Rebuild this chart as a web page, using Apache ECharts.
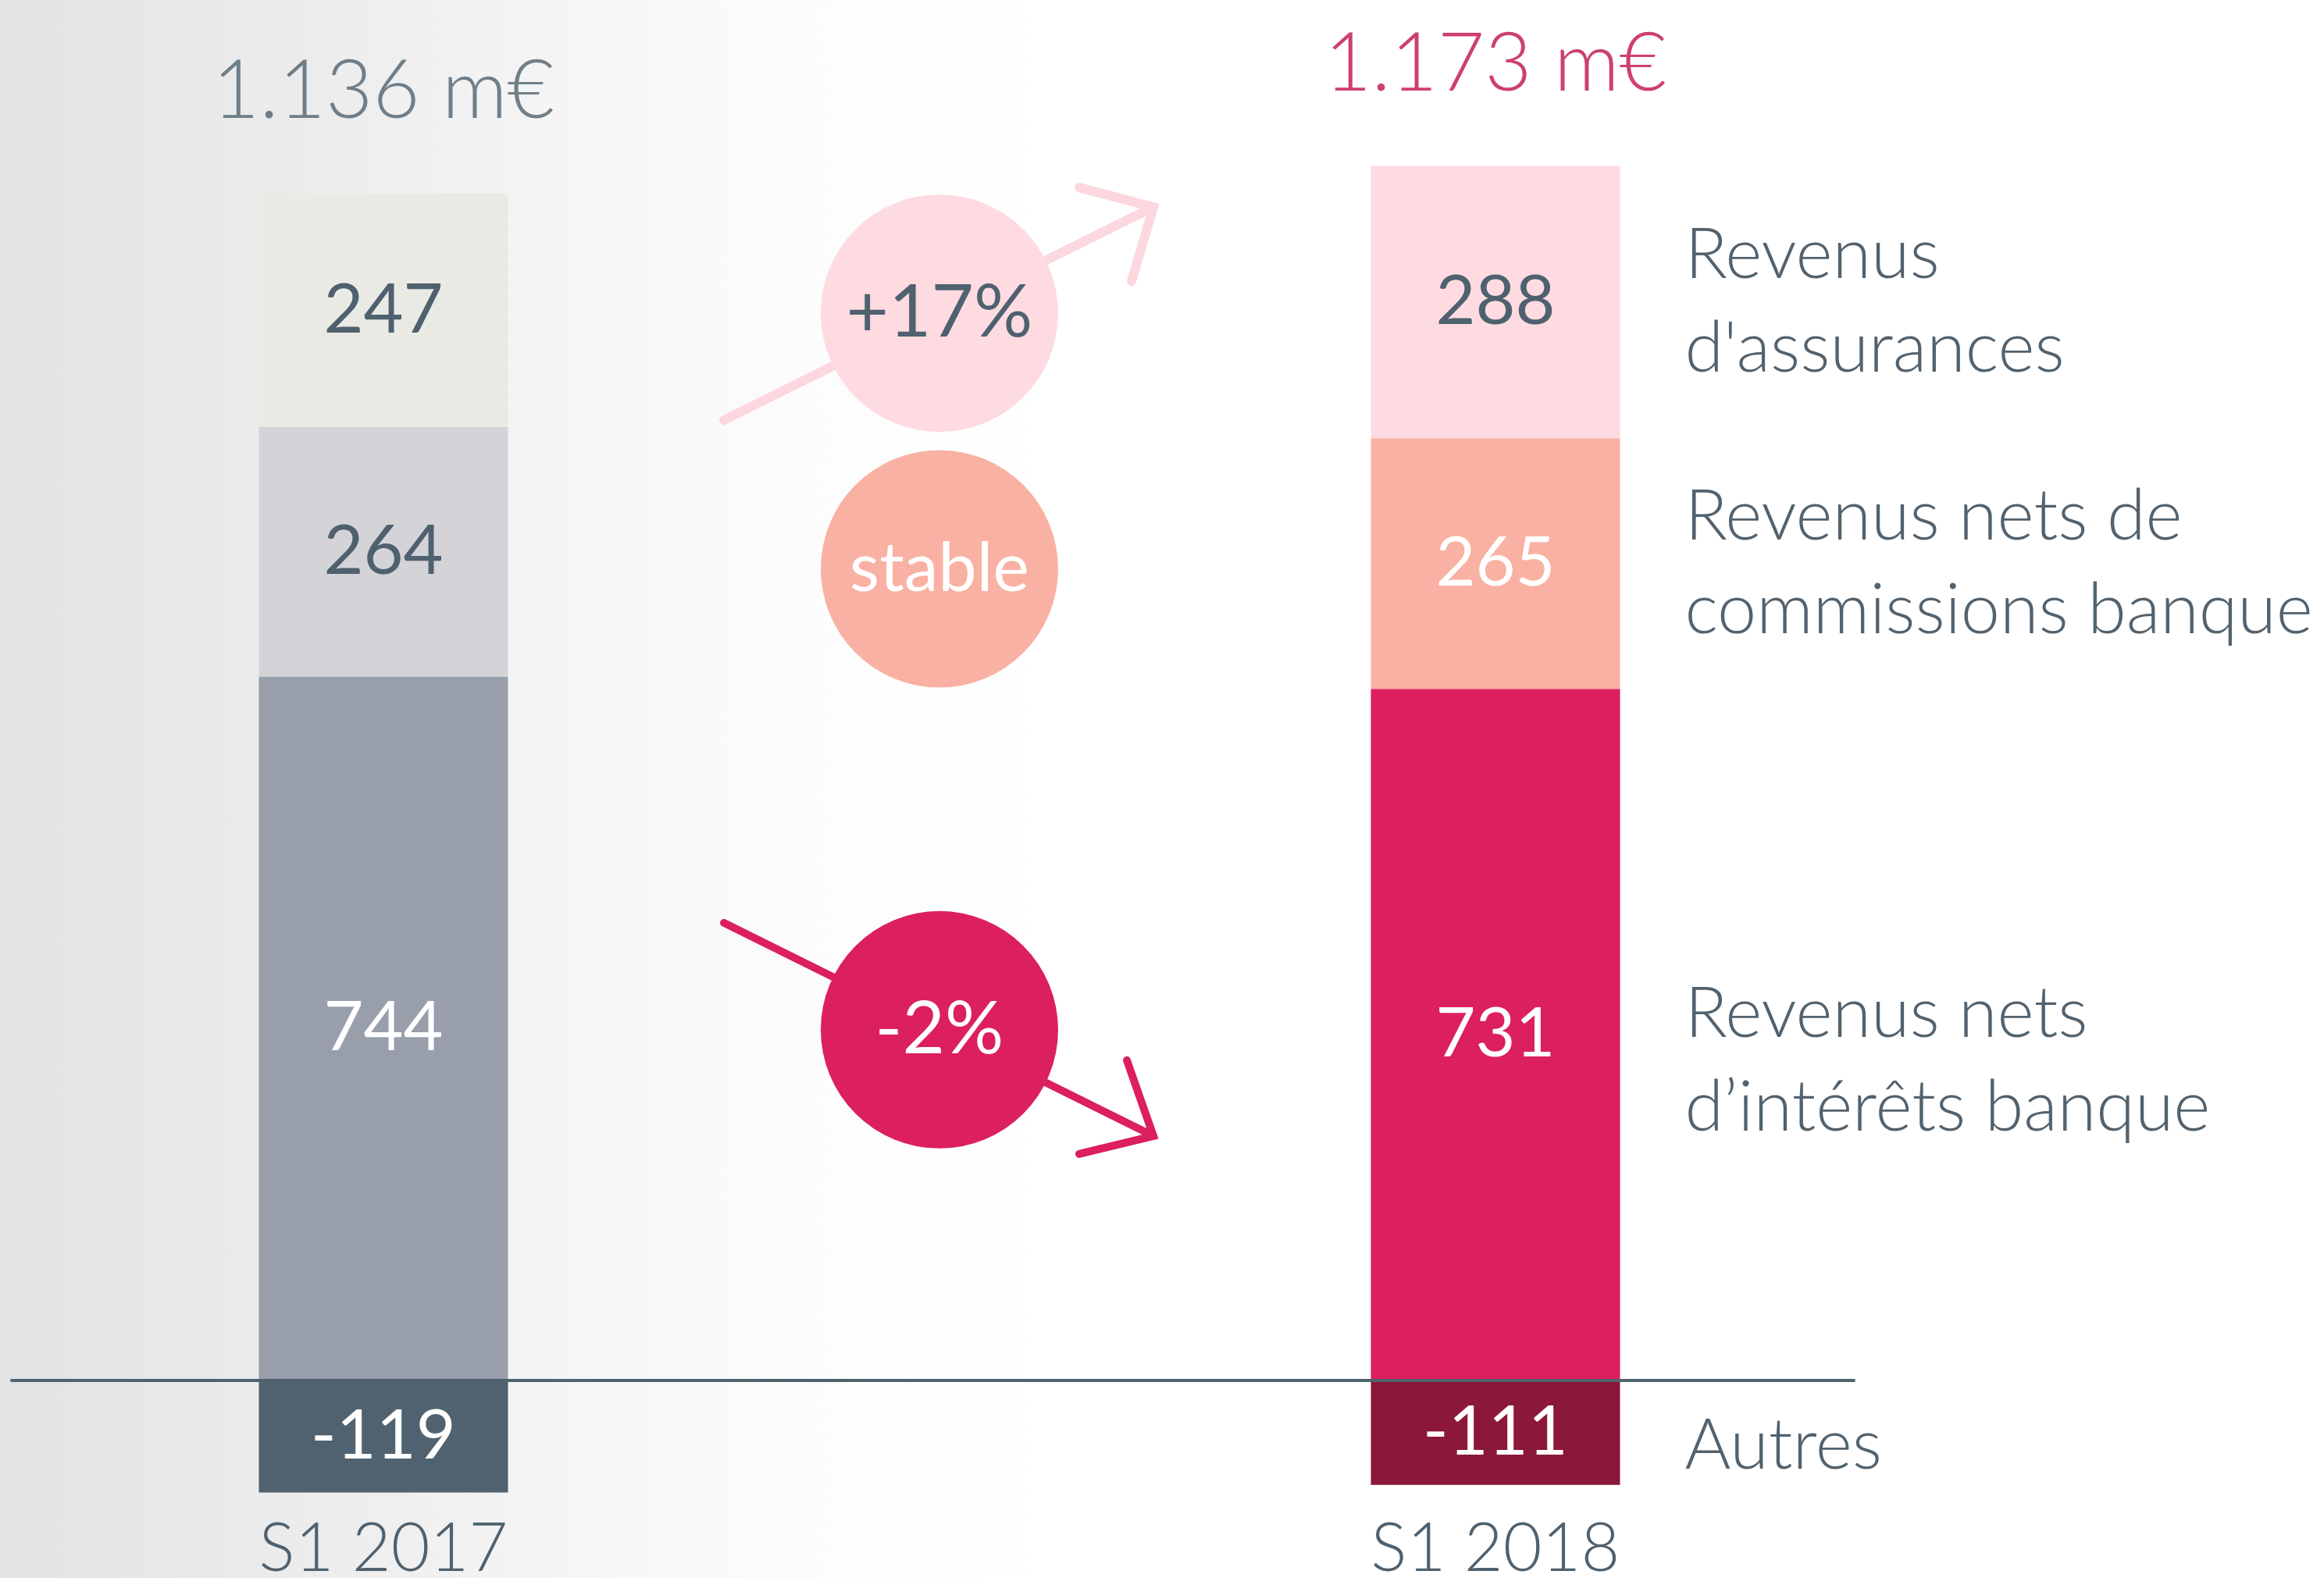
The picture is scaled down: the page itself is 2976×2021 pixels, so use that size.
<!DOCTYPE html>
<html>
<head>
<meta charset="utf-8">
<script src="https://cdn.jsdelivr.net/npm/echarts@6/dist/echarts.min.js"></script>
<style>
  html, body { margin: 0; padding: 0; background: #fff; }
  #chart { width: 2976px; height: 2021px; }
</style>
</head>
<body>
<div id="chart"></div>
<script>
// data
var categories = ['S1 2017', 'S1 2018'];
var assurances = [247, 288];
var commissions = [264, 265];
var interets = [744, 731];
var autres = [-119, -111];
var segmentNames = ["Revenus\nd'assurances", 'Revenus nets de\ncommissions banque', 'Revenus nets\nd\u2019int\u00e9r\u00eats banque', 'Autres'];

var GREY = '#4f616e';
var CRIMSON = '#c0104a';
var font = 'Lato, "Noto Sans", sans-serif';

var chart = echarts.init(document.getElementById('chart'));

function segment(name, values, fills, textColors) {
  return {
    name: name,
    type: 'bar',
    stack: 'total',
    barWidth: 319,
    barGap: '-100%',
    clip: false,
    xAxisIndex: 0,
    yAxisIndex: 0,
    label: {
      show: true,
      position: 'inside',
      fontFamily: font,
      fontSize: 88
    },
    data: values.map(function (v, i) {
      return { value: v, itemStyle: { color: fills[i] }, label: { color: textColors[i] } };
    })
  };
}

// transparent copy stacked beside, only to carry the names on the right of S1 2018
function nameLabel(name, values, offsetY) {
  return {
    name: name,
    type: 'bar',
    stack: 'names',
    barWidth: 319,
    barGap: '-100%',
    clip: false,
    silent: true,
    xAxisIndex: 0,
    yAxisIndex: 0,
    itemStyle: { color: 'rgba(0,0,0,0)' },
    label: {
      show: true,
      position: 'right',
      distance: 83,
      offset: [0, offsetY],
      formatter: '{a}',
      fontFamily: font,
      fontWeight: 300,
      fontSize: 90,
      lineHeight: 120,
      color: '#52626e'
    },
    data: values.map(function (v, i) { return i === 1 ? v : '-'; })
  };
}

var positives = categories.map(function (c, i) { return assurances[i] + commissions[i] + interets[i]; });
var totals = categories.map(function (c, i) { return positives[i] + autres[i]; });

function fmtTotal(v) {
  var s = String(v);
  return s.length > 3 ? s.slice(0, s.length - 3) + '.' + s.slice(-3) + ' m\u20ac' : s + ' m\u20ac';
}

var option = {
  backgroundColor: {
    type: 'linear', x: 0, y: 0, x2: 1, y2: 0,
    colorStops: [
      { offset: 0, color: '#e3e3e4' },
      { offset: 0.12, color: '#ebebec' },
      { offset: 0.24, color: '#f5f5f5' },
      { offset: 0.34, color: '#fcfcfc' },
      { offset: 0.45, color: '#ffffff' },
      { offset: 1, color: '#ffffff' }
    ]
  },
  animation: false,
  textStyle: { fontFamily: font },
  grid: [
    { left: 491, right: 1061, top: 72, bottom: 72, outerBoundsMode: 'none', containLabel: false },
    { left: 15, right: 602, top: 72, bottom: 72, outerBoundsMode: 'none', containLabel: false }
  ],
  xAxis: [
    {
      type: 'category',
      gridIndex: 0,
      data: categories,
      boundaryGap: false,
      axisLine: { show: false, onZero: false },
      axisTick: { show: false },
      axisLabel: {
        color: GREY,
        fontFamily: font,
        fontWeight: 300,
        fontSize: 86,
        margin: -8
      }
    },
    {
      type: 'value',
      gridIndex: 1,
      min: 0,
      max: 1,
      z: 10,
      axisLine: { show: true, onZero: true, lineStyle: { color: '#50626f', width: 4 } },
      axisTick: { show: false },
      axisLabel: { show: false },
      splitLine: { show: false }
    }
  ],
  yAxis: [
    { type: 'value', gridIndex: 0, min: -150, max: 1400, show: false },
    { type: 'value', gridIndex: 1, min: -150, max: 1400, show: false }
  ],
  series: [
    segment(segmentNames[2], interets, ['#989fab', '#dc1f5d'], ['#ffffff', '#ffffff']),
    segment(segmentNames[1], commissions, ['#d3d3d8', '#f9b1a3'], [GREY, '#ffffff']),
    segment(segmentNames[0], assurances, ['#eaeae5', '#fedbe1'], [GREY, GREY]),
    segment(segmentNames[3], autres, ['#50626f', '#8b1838'], ['#ffffff', '#ffffff']),
    nameLabel(segmentNames[2], interets, 34),
    nameLabel(segmentNames[1], commissions, 0),
    nameLabel(segmentNames[0], assurances, 0),
    nameLabel(segmentNames[3], autres, 17),
    {
      name: 'total',
      type: 'scatter',
      xAxisIndex: 0,
      yAxisIndex: 0,
      symbolSize: 1,
      silent: true,
      itemStyle: { color: 'rgba(0,0,0,0)' },
      label: {
        show: true,
        position: 'top',
        distance: 74,
        fontFamily: font,
        fontWeight: 300,
        fontSize: 104,
        lineHeight: 112,
        formatter: function (p) { return fmtTotal(totals[p.dataIndex]); }
      },
      data: categories.map(function (c, i) {
        return { value: [i, positives[i]], label: { color: i === 0 ? GREY : CRIMSON } };
      })
    }
  ]
};

chart.setOption(option);

// change bubbles between the two bars, placed on the 2017 segment middles
var x0 = chart.convertToPixel({ xAxisIndex: 0 }, categories[0]);
var x1 = chart.convertToPixel({ xAxisIndex: 0 }, categories[1]);
var cx = (x0 + x1) / 2;

function pct(a, b) { return Math.round((b[1] / b[0] - 1) * 100); }
var changes = [pct(0, assurances), pct(0, commissions), pct(0, interets)];
function changeText(c) { return c === 0 ? 'stable' : (c > 0 ? '+' + c + '%' : c + '%'); }

var mids = [
  interets[0] + commissions[0] + assurances[0] / 2,
  interets[0] + commissions[0] / 2,
  interets[0] / 2
];
var bubbleFill = ['#fedbe1', '#f9b1a3', '#dc1f5d'];
var bubbleText = [GREY, '#ffffff', '#ffffff'];
var nudge = [4, 22, 2];

var graphics = [];
mids.forEach(function (m, i) {
  var cy = chart.convertToPixel({ yAxisIndex: 0 }, m) + nudge[i];
  var c = changes[i];
  if (c !== 0) {
    var up = c > 0;
    var s = up ? -1 : 1;
    var tip = [cx + 274, cy + s * 136];
    var color = up ? '#fcd7de' : '#dc1f5d';
    graphics.push({
      type: 'polyline', z: 1,
      shape: { points: [[cx - 276, cy - s * 137], tip] },
      style: { stroke: color, lineWidth: up ? 12 : 10, lineCap: 'round', fill: null }
    });
    graphics.push({
      type: 'polyline', z: 1,
      shape: { points: up
        ? [[tip[0] - 95, tip[1] - 25], tip, [tip[0] - 28, tip[1] + 95]]
        : [[tip[0] - 34, tip[1] - 97], tip, [tip[0] - 95, tip[1] + 23]] },
      style: { stroke: color, lineWidth: up ? 12 : 10, lineCap: 'round', lineJoin: 'miter', fill: null }
    });
  }
  graphics.push({
    type: 'circle', z: 2,
    shape: { cx: cx, cy: cy, r: 152 },
    style: { fill: bubbleFill[i] }
  });
  graphics.push({
    type: 'text', z: 3,
    x: cx, y: cy,
    style: {
      text: changeText(c),
      fill: bubbleText[i],
      font: (c === 0 ? 88 : 94) + 'px ' + font,
      textAlign: 'center',
      textVerticalAlign: 'middle'
    }
  });
});

chart.setOption({ graphic: graphics });
</script>
</body>
</html>
